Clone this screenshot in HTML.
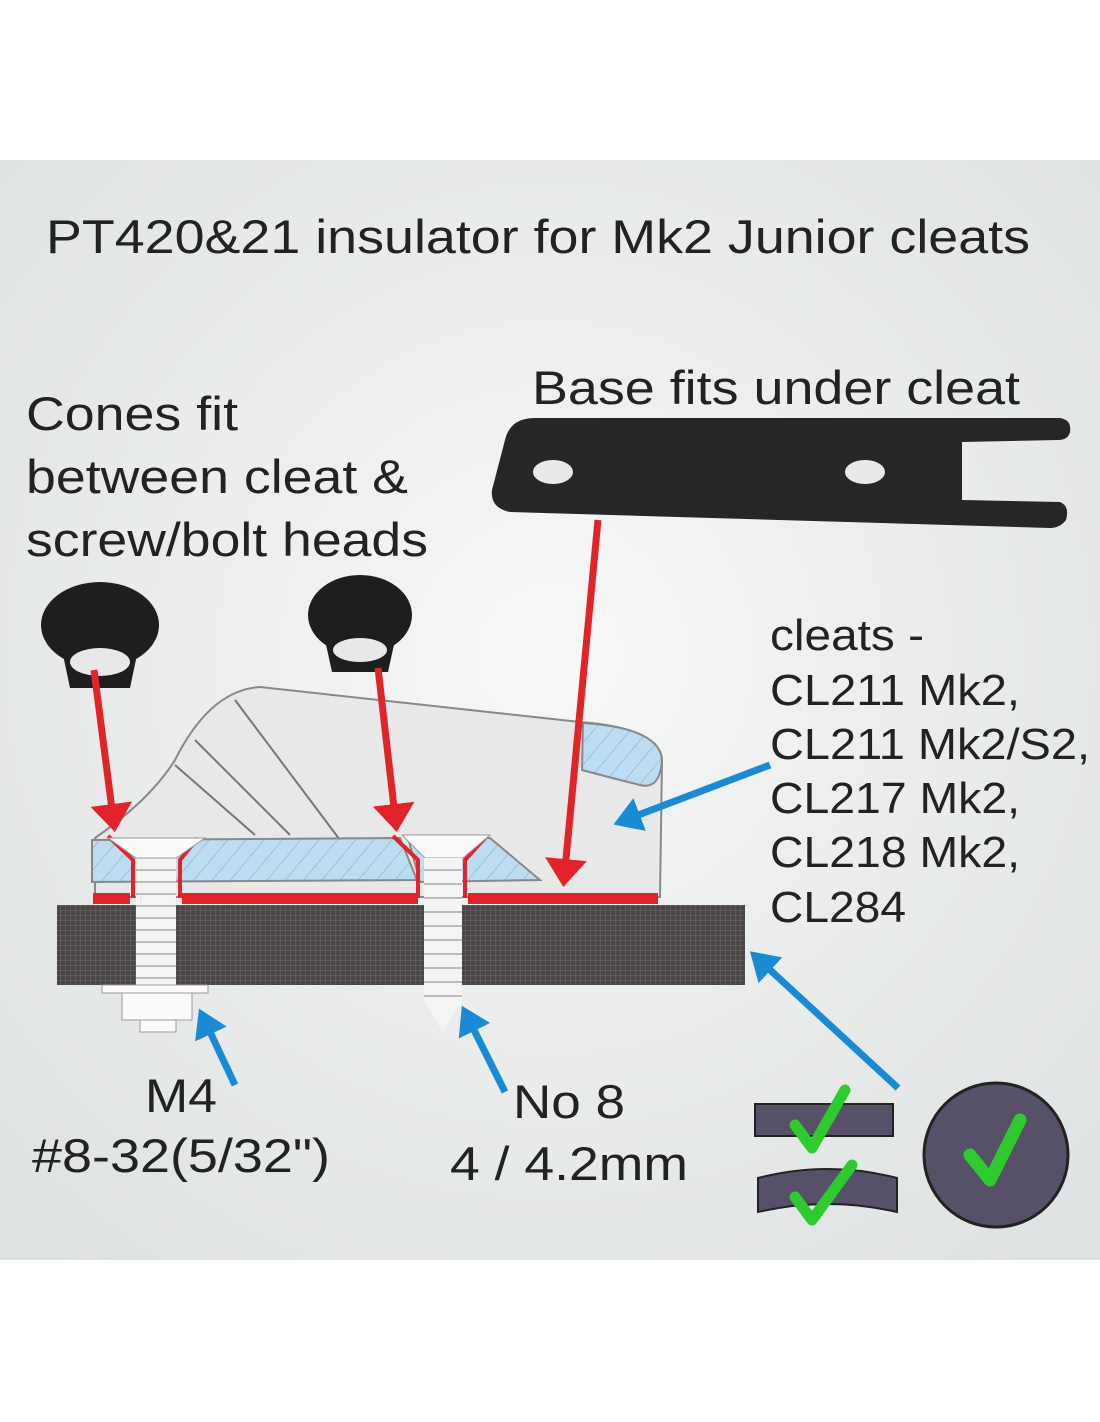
<!DOCTYPE html>
<html><head><meta charset="utf-8"><style>
body{margin:0;width:1100px;height:1422px;background:#fff;overflow:hidden}
svg{display:block}
text{font-family:"Liberation Sans",sans-serif;fill:#222}
</style></head><body>
<svg width="1100" height="1422" viewBox="0 0 1100 1422">
<defs>
<radialGradient id="bg" cx="0.5" cy="0.45" r="0.7">
<stop offset="0" stop-color="#f7f8f8"/><stop offset="1" stop-color="#dfe2e2"/></radialGradient>
<pattern id="hatch" width="14" height="14" patternUnits="userSpaceOnUse" patternTransform="rotate(40)">
<rect width="14" height="14" fill="#bcdcf2"/><line x1="0" y1="0" x2="0" y2="14" stroke="#7fa8c8" stroke-width="1"/></pattern>
<pattern id="grid" width="5" height="5" patternUnits="userSpaceOnUse">
<rect width="5" height="5" fill="#4a4646"/><path d="M0 0H5M0 0V5" stroke="#6e6a6a" stroke-width="1"/></pattern>
<marker id="ra" markerWidth="4" markerHeight="6" refX="3" refY="3" orient="auto" markerUnits="strokeWidth"><path d="M0 0L4 3L0 6z" fill="#e0242a"/></marker>
<marker id="ba" markerWidth="4" markerHeight="5" refX="3" refY="2.5" orient="auto" markerUnits="strokeWidth"><path d="M0 0L4 2.5L0 5z" fill="#1a8ad4"/></marker>
</defs>
<rect x="0" y="160" width="1100" height="1100" fill="url(#bg)"/>
<text x="46" y="253" font-size="47" textLength="984" lengthAdjust="spacingAndGlyphs">PT420&amp;21 insulator for Mk2 Junior cleats</text>
<text x="26" y="430" font-size="47" textLength="212" lengthAdjust="spacingAndGlyphs">Cones fit</text>
<text x="26" y="493" font-size="47" textLength="382" lengthAdjust="spacingAndGlyphs">between cleat &amp;</text>
<text x="26" y="556" font-size="47" textLength="402" lengthAdjust="spacingAndGlyphs">screw/bolt heads</text>
<text x="532" y="404" font-size="47" textLength="488" lengthAdjust="spacingAndGlyphs">Base fits under cleat</text>
<!-- base plate -->
<path d="M505 440 Q510 418 535 418 L1060 418 Q1072 420 1070 432 Q1068 440 1058 440 L962 442 L962 500 L1060 502 Q1070 506 1066 520 Q1060 528 1050 528 L510 512 Q490 508 492 490 Z" fill="#262626"/>
<ellipse cx="553" cy="472" rx="20" ry="12" fill="#e8eaea"/>
<ellipse cx="865" cy="472" rx="20" ry="12" fill="#e8eaea"/>
<!-- cones -->
<g fill="#1e1e1e"><ellipse cx="100" cy="625" rx="59" ry="43"/><path d="M62 650 L70 688 L130 688 L138 650Z"/>
<ellipse cx="360" cy="615" rx="52" ry="40"/><path d="M325 640 L332 672 L388 672 L395 640Z"/></g>
<ellipse cx="100" cy="662" rx="30" ry="14" fill="#e8e8e8"/><ellipse cx="360" cy="650" rx="27" ry="12" fill="#e8e8e8"/>
<!-- cleat body -->
<path d="M95 838 Q150 800 175 760 Q210 690 260 687 L580 722 Q660 728 662 760 L660 897 L95 897 Z" fill="#e8e8e8" stroke="#888" stroke-width="2"/>
<path d="M195 740 L290 835 M175 765 L255 835 M235 700 L340 840" stroke="#777" stroke-width="2"/>
<path d="M583 723 Q660 728 662 760 Q660 790 640 785 Q600 775 582 770 Z" fill="url(#hatch)" stroke="#888" stroke-width="2"/>
<path d="M92 840 L400 838 L417 880 L92 882 Z" fill="url(#hatch)" stroke="#888" stroke-width="2"/>
<path d="M408 838 L490 838 L540 880 L420 882 Z" fill="url(#hatch)" stroke="#888" stroke-width="2"/>
<!-- red insulators -->
<g fill="#e0242a"><rect x="93" y="893" width="37" height="11"/><rect x="182" y="893" width="236" height="11"/><rect x="468" y="893" width="190" height="11"/></g>
<path d="M108 836 L133 860 L133 898 M180 898 L180 860 L198 838 M393 836 L418 860 L418 898 M465 898 L465 860 L485 838" stroke="#e0242a" stroke-width="4" fill="none"/>
<!-- board -->
<rect x="57" y="905" width="688" height="80" fill="url(#grid)"/>
<!-- bolt -->
<rect x="136" y="855" width="40" height="130" fill="#f4f4f4"/>
<path d="M108 838 L205 838 L176 858 L136 858Z" fill="#fafafa" stroke="#999"/>
<g stroke="#bbb" stroke-width="2"><path d="M136 870 H176 M136 882 H176 M136 894 H176 M136 906 H176 M136 918 H176 M136 930 H176 M136 942 H176 M136 954 H176 M136 966 H176 M136 978 H176"/></g>
<rect x="102" y="985" width="106" height="8" fill="#fafafa" stroke="#999"/>
<path d="M122 993 H192 V1020 H122Z M140 1020 H176 V1032 H140Z" fill="#fafafa" stroke="#999"/>
<!-- screw -->
<path d="M402 835 L490 835 L463 858 L425 858Z" fill="#fafafa" stroke="#999"/>
<path d="M424 858 H462 V1000 L443 1033 L424 1000Z" fill="#f4f4f4"/>
<g stroke="#bbb" stroke-width="2"><path d="M424 870 H462 M424 884 H462 M424 898 H462 M424 912 H462 M424 926 H462 M424 940 H462 M424 954 H462 M424 968 H462 M424 982 H462 M424 996 H462"/></g>
<!-- red arrows -->
<g stroke="#e0242a" stroke-width="7" fill="none">
<line x1="94" y1="670" x2="114" y2="825" marker-end="url(#ra)"/>
<line x1="378" y1="668" x2="396" y2="825" marker-end="url(#ra)"/>
<line x1="598" y1="520" x2="564" y2="880" marker-end="url(#ra)"/>
</g>
<!-- blue arrows -->
<g stroke="#1a8ad4" stroke-width="7" fill="none">
<line x1="770" y1="765" x2="620" y2="822" marker-end="url(#ba)"/>
<line x1="898" y1="1088" x2="755" y2="956" marker-end="url(#ba)"/>
<line x1="235" y1="1085" x2="202" y2="1015" marker-end="url(#ba)"/>
<line x1="505" y1="1092" x2="465" y2="1012" marker-end="url(#ba)"/>
</g>
<g font-size="44">
<text x="770" y="650" textLength="154" lengthAdjust="spacingAndGlyphs">cleats -</text>
<text x="770" y="705" textLength="250" lengthAdjust="spacingAndGlyphs">CL211 Mk2,</text>
<text x="770" y="759" textLength="320" lengthAdjust="spacingAndGlyphs">CL211 Mk2/S2,</text>
<text x="770" y="813" textLength="250" lengthAdjust="spacingAndGlyphs">CL217 Mk2,</text>
<text x="770" y="867" textLength="250" lengthAdjust="spacingAndGlyphs">CL218 Mk2,</text>
<text x="770" y="922" textLength="136" lengthAdjust="spacingAndGlyphs">CL284</text>
</g>
<g font-size="47">
<text x="145" y="1112" textLength="72" lengthAdjust="spacingAndGlyphs">M4</text>
<text x="32" y="1172" textLength="298" lengthAdjust="spacingAndGlyphs">#8-32(5/32")</text>
<text x="513" y="1118" textLength="112" lengthAdjust="spacingAndGlyphs">No 8</text>
<text x="450" y="1180" textLength="238" lengthAdjust="spacingAndGlyphs">4 / 4.2mm</text>
</g>
<!-- surfaces -->
<rect x="755" y="1104" width="138" height="32" fill="#575069" stroke="#222" stroke-width="2"/>
<path d="M758 1178 Q828 1160 897 1178 L897 1212 Q828 1196 758 1212Z" fill="#575069" stroke="#222" stroke-width="2"/>
<circle cx="996" cy="1155" r="72" fill="#575069" stroke="#222" stroke-width="3"/>
<g fill="none" stroke="#2ecb2e" stroke-linecap="round" stroke-linejoin="round">
<path d="M795 1125 L812 1148 L845 1090" stroke-width="11"/>
<path d="M795 1197 L812 1220 L852 1165" stroke-width="11"/>
<path d="M970 1155 L990 1180 L1020 1120" stroke-width="13"/>
</g>
</svg>
</body></html>
